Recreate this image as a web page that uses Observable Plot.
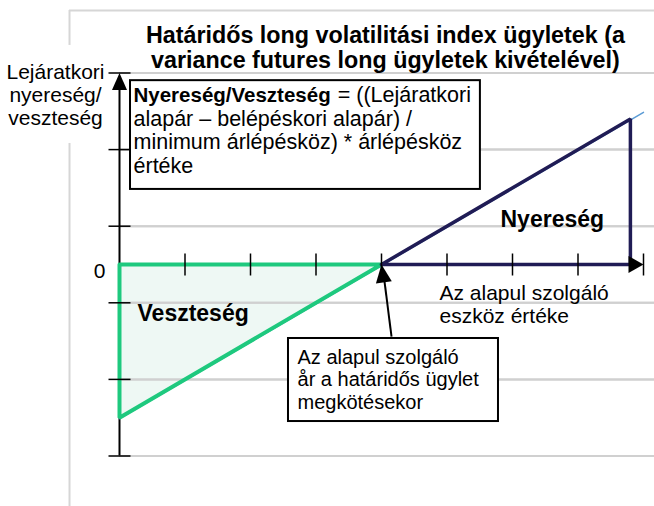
<!DOCTYPE html>
<html><head><meta charset="utf-8">
<script src="https://cdn.jsdelivr.net/npm/d3@7"></script>
<script src="https://cdn.jsdelivr.net/npm/@observablehq/plot@0.6"></script>
<style>body{margin:0;background:#fff}</style>
</head><body><div id="chart"></div>
<script>
// ---- data ----
const xTicks = [1, 2, 3, 4, 5, 6, 7, 8];
const yGridValues = [-2.5, -1.5, -0.5, 0.5, 1.5, 2.5];
const entryPrice = 4;
const payoffLine = [{x: 0, y: -2}, {x: 8, y: 2}];
const lossOutline = [{x: 0, y: 0}, {x: 4, y: 0}, {x: 0, y: -2}, {x: 0, y: 0}];
const lossFill = [{x: 0, y1: -2, y2: 0}, {x: 4, y1: 0, y2: 0}];
const gainOutline = [{x: 4, y: 0}, {x: 7.8, y: 1.9}, {x: 7.8, y: 0}, {x: 4, y: 0}];
const zeroLabel = ["0"];
const titleText = "Határidős long volatilitási index ügyletek (a\nvariance futures long ügyletek kivételével)";
const yLabelText = "Lejáratkori\nnyereség/\nveszteség";
const xLabelText = "Az alapul szolgáló\neszköz értéke";
const formulaBold = "Nyereség/Veszteség";
const formulaLine1 = "= ((Lejáratkori";
const formulaRest = "alapár – belépéskori alapár) /\nminimum árlépésköz) * árlépésköz\nértéke";
const entryNote = "Az alapul szolgáló\når a határidős ügylet\nmegkötésekor";
const gainLabel = "Nyereség";
const lossLabel = "Veszteség";

// ---- styling helpers ----
const FONT = "'Liberation Sans', Arial, sans-serif";
function arrowHead(angle, len, half) {
  const a = angle * Math.PI / 180;
  const dx = Math.sin(a), dy = -Math.cos(a);
  const px = -dy, py = dx;
  return {draw(ctx) {
    const bx = -dx * len, by = -dy * len;
    ctx.moveTo(0, 0);
    ctx.lineTo(bx + px * half, by + py * half);
    ctx.lineTo(bx - px * half, by - py * half);
    ctx.closePath();
  }};
}
const vTick = {draw(ctx) { ctx.moveTo(0, -11); ctx.lineTo(0, 11); }};
const hTick = {draw(ctx) { ctx.moveTo(-11, 0); ctx.lineTo(11, 0); }};

const BOLD_FS = 20.5, REG_FS = 21.5;
// Arial/Liberation metrics: bold "Nyereség/Veszteség" = 9.671em, regular space = 0.278em
const line1Offset = 9.671 * BOLD_FS + 0.278 * REG_FS;

const textOpts = {text: d => d, fill: "black", lineAnchor: "bottom", textAnchor: "start"};
const gridOpts = {stroke: "#d0d0d0", strokeWidth: 2};

const plot = Plot.plot({
  width: 654,
  height: 506,
  margin: 0,
  style: {background: "white", fontFamily: FONT, color: "black", overflow: "hidden"},
  x: {domain: [0, 8], range: [119, 643], axis: null},
  y: {domain: [-2.5, 2.5], range: [455.5, 72.5], axis: null},
  marks: [
    // outer plot-area frame
    Plot.ruleY([3.316], {x1: -0.763, x2: 8.4, stroke: "#d6d6d6", strokeWidth: 2}),
    Plot.ruleX([-0.763], {y1: 3.316, y2: -3.3, stroke: "#d6d6d6", strokeWidth: 2}),
    Plot.rect([0], {x1: -1.82, x2: -0.2, y1: 1.58, y2: 2.86, fill: "white"}),
    // loss fill
    Plot.areaY(lossFill, {x: "x", y1: "y1", y2: "y2", fill: "#eef8f4"}),
    // gridlines
    Plot.ruleY(yGridValues, {x1: 0, x2: 8.4, ...gridOpts}),
    Plot.link(yGridValues, {x1: 0, x2: 8.4, y1: d => d, y2: d => d, ...gridOpts}),
    // y axis
    Plot.ruleX([0], {y1: -2.5, y2: 2.3, stroke: "black", strokeWidth: 2}),
    // payoff line
    Plot.line(payoffLine, {x: "x", y: "y", stroke: "#5b9bd5", strokeWidth: 1.5, dy: 1}),
    // loss / gain outlines
    Plot.line(lossOutline, {x: "x", y: "y", stroke: "#1ec97e", strokeWidth: 4, strokeLinejoin: "miter"}),
    Plot.line(gainOutline, {x: "x", y: "y", stroke: "#201c55", strokeWidth: 3.5, strokeLinejoin: "miter"}),
    // ticks
    Plot.dot(xTicks, {x: d => d, y: 0, symbol: vTick, stroke: "black", strokeWidth: 1.5, fill: "none"}),
    Plot.dot(yGridValues, {x: 0, y: d => d, symbol: hTick, stroke: "black", strokeWidth: 1.5, fill: "none"}),
    // axis arrowheads
    Plot.dot([0], {x: 0, y: 2.5, symbol: arrowHead(0, 17, 7.5), fill: "black", stroke: "none"}),
    Plot.dot([0], {x: 8, y: 0, symbol: arrowHead(90, 15, 8.5), fill: "black", stroke: "none"}),
    // entry-price annotation arrow
    Plot.link([0], {x1: 4.153, y1: -0.94, x2: 4.04, y2: -0.18, stroke: "black", strokeWidth: 2}),
    Plot.dot([entryPrice], {x: d => d, y: 0, symbol: arrowHead(-7.5, 18, 8), fill: "black", stroke: "none"}),
    // boxes
    Plot.rect([0], {x1: 0.168, x2: 5.51, y1: 0.98, y2: 2.40, fill: "white", stroke: "black", strokeWidth: 2}),
    Plot.rect([0], {x1: 2.58, x2: 5.786, y1: -2.05, y2: -0.966, fill: "white", stroke: "black", strokeWidth: 2}),
    // texts
    Plot.text([titleText], {...textOpts, x: 4.06, y: 2.559, fontSize: 23.3, fontWeight: "bold", lineHeight: 1.1, textAnchor: "middle"}),
    Plot.text([yLabelText], {...textOpts, x: -0.977, y: 1.821, fontSize: 21, lineHeight: 1.095, textAnchor: "middle"}),
    Plot.text(zeroLabel, {...textOpts, x: -0.305, y: -0.17, fontSize: 21, textAnchor: "middle"}),
    Plot.text([formulaBold], {...textOpts, x: 0.214, y: 2.115, fontSize: BOLD_FS, fontWeight: "bold"}),
    Plot.text([formulaLine1], {...textOpts, x: 0.214, y: 2.115, dx: line1Offset, fontSize: REG_FS}),
    Plot.text([formulaRest], {...textOpts, x: 0.214, y: 1.201, fontSize: REG_FS, lineHeight: 1.084}),
    Plot.text([entryNote], {...textOpts, x: 2.718, y: -1.88, fontSize: 20, lineHeight: 1.125}),
    Plot.text([xLabelText], {...textOpts, x: 4.885, y: -0.77, fontSize: 21, lineHeight: 1.095}),
    Plot.text([lossLabel], {...textOpts, x: 0.275, y: -0.744, fontSize: 23, fontWeight: "bold"}),
    Plot.text([gainLabel], {...textOpts, x: 5.817, y: 0.496, fontSize: 23, fontWeight: "bold"})
  ]
});
document.getElementById("chart").appendChild(plot);
</script>
</body></html>
